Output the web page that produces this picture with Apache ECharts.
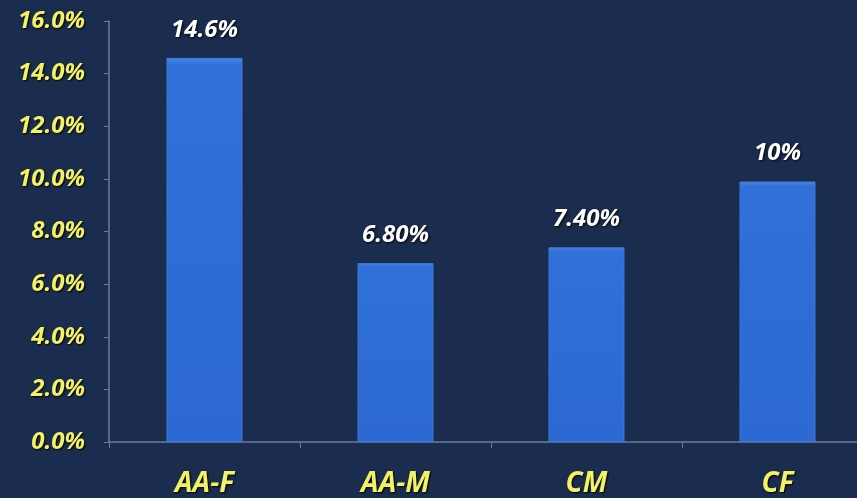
<!DOCTYPE html>
<html>
<head>
<meta charset="utf-8">
<script src="https://cdn.jsdelivr.net/npm/echarts@6/dist/echarts.min.js"></script>
<style>
html,body{margin:0;padding:0;background:#1b2d4f;overflow:hidden;width:857px;height:498px;}
#c{width:873px;height:498px;}
</style>
</head>
<body>
<div id="c"></div>
<script>
const categories = ['AA-F', 'AA-M', 'CM', 'CF'];
const values = [14.6, 6.8, 7.4, 9.9];
const valueLabels = ['14.6%', '6.80%', '7.40%', '10%'];

const chart = echarts.init(document.getElementById('c'));
chart.setOption({
  backgroundColor: '#1b2d4f',
  animation: false,
  grid: { left: 109, top: 21, bottom: 56, right: 0, containLabel: false },
  xAxis: {
    type: 'category',
    data: categories,
    axisLine: { lineStyle: { color: '#6b7c98', width: 1.5 } },
    axisTick: { show: true, length: 6, inside: false, lineStyle: { color: '#6b7c98' } },
    axisLabel: {
      color: '#f2f263', fontSize: 28, fontStyle: 'italic', fontWeight: 'bold',
      fontFamily: 'Open Sans', margin: 28,
      textShadowColor: '#000', textShadowBlur: 2, textShadowOffsetX: 1, textShadowOffsetY: 1
    }
  },
  yAxis: {
    type: 'value', min: 0, max: 16, interval: 2,
    splitLine: { show: false },
    axisLine: { show: true, lineStyle: { color: '#6b7c98', width: 1.5 } },
    axisTick: { show: true, length: 5, lineStyle: { color: '#6b7c98' } },
    axisLabel: {
      color: '#f2f263', fontSize: 24, fontStyle: 'italic', fontWeight: 'bold',
      fontFamily: 'Open Sans', margin: 24,
      formatter: v => v.toFixed(1) + '%',
      textShadowColor: '#000', textShadowBlur: 2, textShadowOffsetX: 1, textShadowOffsetY: 1
    }
  },
  series: [{
    type: 'bar',
    data: values,
    barWidth: 76,
    itemStyle: {
      color: new echarts.graphic.LinearGradient(0, 0, 0, 1, [
        { offset: 0, color: '#4d86de' },
        { offset: 0.02, color: '#3070d8' },
        { offset: 1, color: '#2c69d3' }
      ]),
      borderColor: '#3b78d9', borderWidth: 1
    },
    label: {
      show: true, position: 'top', distance: 16,
      color: '#ffffff', fontSize: 24, fontStyle: 'italic', fontWeight: 'bold',
      fontFamily: 'Open Sans',
      formatter: p => valueLabels[p.dataIndex],
      textShadowColor: '#000', textShadowBlur: 3, textShadowOffsetX: 1, textShadowOffsetY: 1
    }
  }]
});
</script>
</body>
</html>
